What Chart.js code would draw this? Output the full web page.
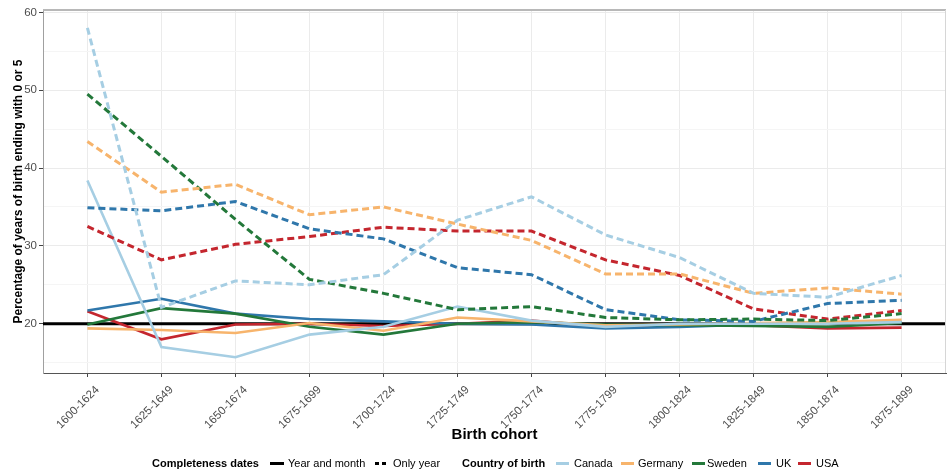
<!DOCTYPE html>
<html>
<head>
<meta charset="utf-8">
<script src="https://cdn.jsdelivr.net/npm/chart.js@4.4.1/dist/chart.umd.min.js"></script>
<style>
  html, body { margin: 0; padding: 0; background: #fff; }
  #wrap { position: relative; width: 948px; height: 472px; font-family: "Liberation Sans", Arial, sans-serif; }
  #chart { position: absolute; left: 0; top: 0; }
  #legend { position: absolute; left: 0; top: 456px; width: 948px; height: 14px; font-size: 11px; color: #000; }
  #legend span { position: absolute; top: 0; line-height: 14px; white-space: nowrap; }
  #legend .title { font-weight: bold; }
  #legend i { position: absolute; top: 6px; height: 3px; display: block; }
  #legend i.dash { background: repeating-linear-gradient(90deg, #000 0 4px, transparent 4px 7px); }
</style>
</head>
<body>
<div id="wrap">
  <canvas id="chart" width="948" height="472"></canvas>
  <div id="legend"></div>
</div>
<script>
// Birth cohorts on the x axis
const cohorts = ['1600-1624', '1625-1649', '1650-1674', '1675-1699', '1700-1724', '1725-1749',
                 '1750-1774', '1775-1799', '1800-1824', '1825-1849', '1850-1874', '1875-1899'];

// Share (%) of birth years ending in 0 or 5, records with year and month known
const canadaYearMonth  = [38.4, 17.0, 15.7, 18.6, 19.6, 22.2, 20.4, 19.6, 20.0, 20.0, 20.0, 20.2];
const germanyYearMonth = [19.4, 19.2, 18.8, 20.1, 19.1, 20.8, 20.3, 19.8, 19.9, 20.1, 20.2, 20.5];
const swedenYearMonth  = [19.9, 22.0, 21.3, 19.6, 18.6, 20.0, 20.2, 19.9, 19.8, 19.7, 19.6, 20.1];
const ukYearMonth      = [21.7, 23.2, 21.3, 20.6, 20.3, 20.0, 19.9, 19.4, 19.6, 19.9, 20.1, 20.2];
const usaYearMonth     = [21.6, 18.0, 19.9, 20.0, 19.7, 20.0, 20.4, 19.6, 19.9, 19.8, 19.4, 19.5];

// Same share, records with only the year known
const canadaOnlyYear  = [58.0, 22.1, 25.5, 25.0, 26.3, 33.3, 36.3, 31.4, 28.5, 23.9, 23.4, 26.2];
const germanyOnlyYear = [43.4, 36.9, 37.9, 34.0, 35.0, 32.8, 30.7, 26.4, 26.4, 23.9, 24.6, 23.8];
const swedenOnlyYear  = [49.5, 41.5, 33.4, 25.7, 23.9, 21.8, 22.2, 20.8, 20.5, 20.6, 20.4, 21.3];
const ukOnlyYear      = [34.9, 34.5, 35.7, 32.2, 30.9, 27.2, 26.3, 21.8, 20.5, 20.3, 22.6, 23.0];
const usaOnlyYear     = [32.5, 28.2, 30.2, 31.2, 32.4, 31.9, 31.9, 28.2, 26.2, 21.9, 20.6, 21.7];

// Expected share without heaping (2 of 10 final digits)
const referenceLevel = 20;

// y gridlines: labelled every 10, minor lines in between
const yTickValues = [15, 20, 25, 30, 35, 40, 45, 50, 55, 60];
const yLabelled = [20, 30, 40, 50, 60];

const countries = [
  { name: 'Canada',  color: '#a6cee3', ym: canadaYearMonth,  oy: canadaOnlyYear },
  { name: 'Germany', color: '#f7b46c', ym: germanyYearMonth, oy: germanyOnlyYear },
  { name: 'Sweden',  color: '#23783a', ym: swedenYearMonth,  oy: swedenOnlyYear },
  { name: 'UK',      color: '#2f77ab', ym: ukYearMonth,      oy: ukOnlyYear },
  { name: 'USA',     color: '#c4262e', ym: usaYearMonth,     oy: usaOnlyYear }
];

const toPoints = arr => arr.map((v, i) => ({ x: i, y: v }));

const datasets = [];
countries.forEach(c => datasets.push({
  label: c.name + ' (only year)', data: toPoints(c.oy), borderColor: c.color,
  borderWidth: 3, borderDash: [7, 4], pointRadius: 0, tension: 0, fill: false
}));
countries.forEach(c => datasets.push({
  label: c.name + ' (year and month)', data: toPoints(c.ym), borderColor: c.color,
  borderWidth: 2.6, pointRadius: 0, tension: 0, fill: false
}));

// Horizontal reference line at the no-heaping level, under the series
const referenceLine = {
  id: 'referenceLine',
  beforeDatasetsDraw(chart) {
    const { ctx, chartArea: a, scales: { y } } = chart;
    const py = y.getPixelForValue(referenceLevel);
    ctx.save();
    ctx.strokeStyle = '#000';
    ctx.lineWidth = 3;
    ctx.beginPath();
    ctx.moveTo(a.left, py);
    ctx.lineTo(a.right, py);
    ctx.stroke();
    ctx.restore();
  }
};

// Light frame on the top and right of the panel
const panelFrame = {
  id: 'panelFrame',
  afterDraw(chart) {
    const { ctx, chartArea: a } = chart;
    ctx.save();
    ctx.strokeStyle = '#b8b8b8';
    ctx.lineWidth = 2;
    ctx.beginPath();
    ctx.moveTo(a.left, a.top);
    ctx.lineTo(a.right, a.top);
    ctx.stroke();
    ctx.strokeStyle = '#d6d6d6';
    ctx.lineWidth = 1;
    ctx.beginPath();
    ctx.moveTo(a.right - 0.5, a.top);
    ctx.lineTo(a.right - 0.5, a.bottom);
    ctx.stroke();
    ctx.restore();
  }
};

const fontFamily = '"Liberation Sans", Arial, sans-serif';

new Chart(document.getElementById('chart'), {
  type: 'line',
  data: { datasets },
  plugins: [referenceLine, panelFrame],
  options: {
    responsive: false,
    animation: false,
    events: [],
    layout: { padding: { left: 0, right: 2, top: 10, bottom: 19 } },
    plugins: { legend: { display: false }, tooltip: { enabled: false } },
    scales: {
      x: {
        type: 'linear',
        min: -0.6,
        max: cohorts.length - 1 + 0.6,
        afterBuildTicks(s) { s.ticks = cohorts.map((_, i) => ({ value: i })); },
        afterFit(s) { s.height = 80; },
        ticks: {
          autoSkip: false, minRotation: 45, maxRotation: 45, padding: 6, labelOffset: 10,
          color: '#4d4d4d', font: { family: fontFamily, size: 11.5 },
          callback: v => cohorts[v]
        },
        grid: { color: '#ebebeb', lineWidth: 1, tickColor: '#444', tickLength: 4 },
        border: { color: '#555', width: 1 },
        title: {
          display: true, text: 'Birth cohort', color: '#000',
          font: { family: fontFamily, size: 15, weight: 'bold' },
          padding: { top: 0, bottom: 9 }
        }
      },
      y: {
        min: 13.67,
        max: 60.3,
        afterBuildTicks(s) { s.ticks = yTickValues.map(v => ({ value: v })); },
        afterFit(s) { s.width = 43; },
        ticks: {
          padding: 2, color: '#4d4d4d', font: { family: fontFamily, size: 11.5 },
          callback: v => (yLabelled.includes(v) ? String(v) : '')
        },
        grid: {
          lineWidth: 1, tickLength: 4,
          color: c => (c.tick && yLabelled.includes(c.tick.value) ? '#ebebeb' : '#f5f5f5'),
          tickColor: c => (c.tick && yLabelled.includes(c.tick.value) ? '#444' : 'rgba(0,0,0,0)')
        },
        border: { color: '#a0a0a0', width: 1 },
        title: {
          display: true, text: 'Percentage of years of birth ending with 0 or 5', color: '#000',
          font: { family: fontFamily, size: 12, weight: 'bold' },
          padding: { top: 11, bottom: 0 }
        }
      }
    }
  }
});

// Legend row: line types, then country colours
const legend = document.getElementById('legend');
function addText(text, left, bold) {
  const s = document.createElement('span');
  s.textContent = text;
  s.style.left = left + 'px';
  if (bold) s.className = 'title';
  legend.appendChild(s);
}
function addKey(left, width, color, dashed) {
  const k = document.createElement('i');
  k.style.left = left + 'px';
  k.style.width = width + 'px';
  if (dashed) k.className = 'dash'; else k.style.background = color;
  legend.appendChild(k);
}
addText('Completeness dates', 152, true);
addKey(270, 14, '#000', false);
addText('Year and month', 288, false);
addKey(375, 11, '#000', true);
addText('Only year', 393, false);
addText('Country of birth', 462, true);
const keyLefts = [556, 621, 692, 758, 798];
const textLefts = [574, 638, 707, 776, 816];
countries.forEach((c, i) => {
  addKey(keyLefts[i], 13, c.color, false);
  addText(c.name, textLefts[i], false);
});
</script>
</body>
</html>
